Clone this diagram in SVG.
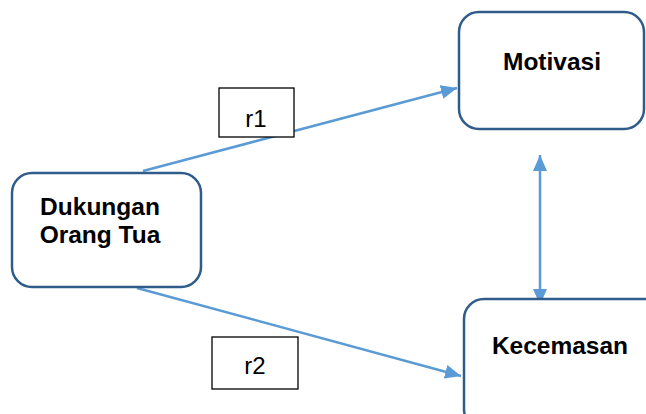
<svg xmlns="http://www.w3.org/2000/svg" width="646" height="414" viewBox="0 0 646 414">
<style>
.node{fill:#fff;stroke:#2f5c8a;stroke-width:2.5}
.lbl{fill:#fff;stroke:#000;stroke-width:1.3}
.t{font-family:"Liberation Sans",Arial,sans-serif;font-weight:bold;font-size:24.5px;fill:#000;text-anchor:middle}
.r{font-family:"Liberation Sans",Arial,sans-serif;font-size:24px;fill:#000;text-anchor:middle}
.c{stroke:#5b9bd5;stroke-width:2.5;fill:none}
</style>
<defs>
<marker id="ah" markerUnits="userSpaceOnUse" markerWidth="18" markerHeight="14" refX="16" refY="7" orient="auto-start-reverse">
<path d="M0,0 L16,7 L0,14 Z" fill="#5b9bd5"/>
</marker>
</defs>
<g id="connectors">
<line class="c" x1="143" y1="171" x2="457" y2="88" marker-end="url(#ah)"/>
<line class="c" x1="137" y1="288" x2="461" y2="376" marker-end="url(#ah)"/>
<line class="c" x1="540" y1="155" x2="540" y2="305" marker-start="url(#ah)" marker-end="url(#ah)"/>
</g>
<g id="dukungan">
<rect class="node" x="12" y="173" width="189" height="114" rx="20"/>
<text class="t" x="100" y="215">Dukungan</text>
<text class="t" x="100" y="243">Orang Tua</text>
</g>
<g id="motivasi">
<rect class="node" x="459" y="12" width="185" height="117" rx="20"/>
<text class="t" x="552" y="70">Motivasi</text>
</g>
<g id="kecemasan">
<rect class="node" x="464" y="299" width="200" height="130" rx="20"/>
<text class="t" x="560" y="354">Kecemasan</text>
</g>
<g id="r1">
<rect class="lbl" x="219" y="88" width="75" height="49"/>
<text class="r" x="256" y="127">r1</text>
</g>
<g id="r2">
<rect class="lbl" x="212" y="337" width="86" height="52"/>
<text class="r" x="255" y="374">r2</text>
</g>
</svg>
